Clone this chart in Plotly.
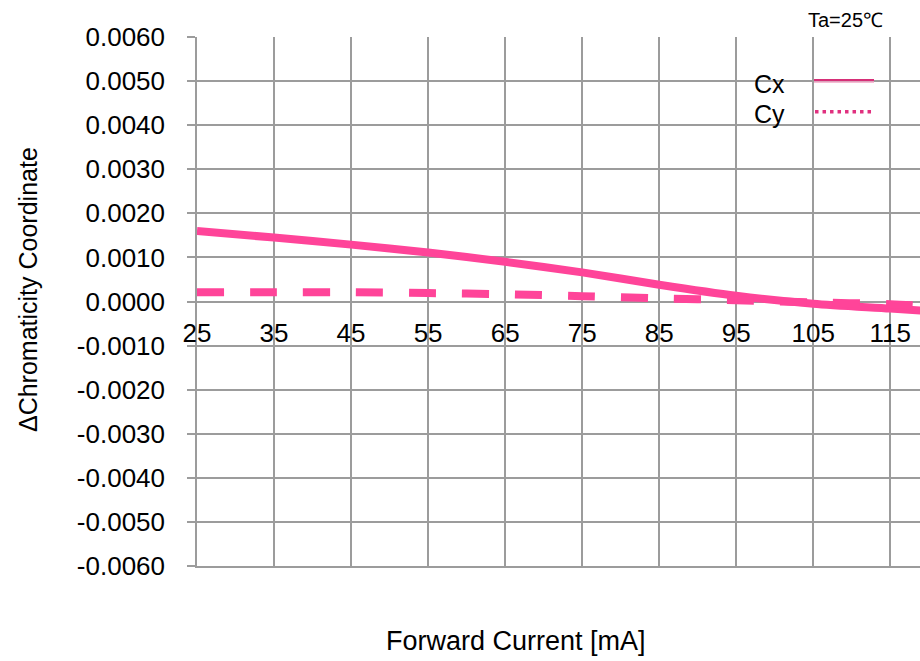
import plotly.graph_objects as go

# Forward current [mA] and chromaticity shift readings
current_ma = [25, 35, 45, 55, 65, 75, 85, 95, 105, 115, 120]
delta_cx = [0.00160, 0.00145, 0.00129, 0.00111, 0.00090, 0.00066, 0.00038, 0.00013, -0.00005, -0.00016, -0.00022]
delta_cy = [0.00021, 0.00021, 0.00021, 0.00019, 0.000165, 0.00012, 0.00007, 0.00003, -0.00002, -0.00006, -0.00011]

x_tick_vals = [25, 35, 45, 55, 65, 75, 85, 95, 105, 115]
x_tick_text = ["25", "35", "45", "55", "65", "75", "85", "95", "105", "115"]
y_tick_vals = [0.006, 0.005, 0.004, 0.003, 0.002, 0.001, 0.0, -0.001, -0.002, -0.003, -0.004, -0.005, -0.006]
y_tick_text = ["0.0060", "0.0050", "0.0040", "0.0030", "0.0020", "0.0010", "0.0000",
               "-0.0010", "-0.0020", "-0.0030", "-0.0040", "-0.0050", "-0.0060"]

FONT = "Liberation Sans, Arial, sans-serif"
PINK = "#FF4499"
GRID = "#9C9C9C"
X_RANGE = [25, 118.86]

fig = go.Figure()
fig.add_trace(go.Scatter(
    x=current_ma, y=delta_cx, mode="lines", name="Cx", showlegend=False,
    line=dict(color=PINK, width=8, shape="spline", smoothing=0.8),
))
fig.add_trace(go.Scatter(
    x=current_ma, y=delta_cy, mode="lines", name="Cy", showlegend=False,
    line=dict(color=PINK, width=8, shape="spline", smoothing=0.8, dash="27px,26px"),
))

fig.update_layout(
    width=920, height=661,
    margin=dict(l=197, r=0, t=37, b=95, pad=0),
    paper_bgcolor="white", plot_bgcolor="white",
    font=dict(family=FONT, size=25, color="black"),
    showlegend=False,
    # grid-carrying x axis at the bottom of the plot area
    xaxis=dict(
        range=X_RANGE, tickmode="array", tickvals=x_tick_vals,
        anchor="y", showline=True, linecolor=GRID, linewidth=1.5,
        ticks="", ticklen=0, zeroline=False,
        showticklabels=False, showgrid=True, gridcolor=GRID, gridwidth=1.5,
    ),
    # label-carrying x axis running along the zero line
    xaxis2=dict(
        range=X_RANGE, matches="x", overlaying="x", tickmode="array",
        tickvals=x_tick_vals, ticktext=x_tick_text,
        anchor="free", position=0.5, side="bottom", showline=False, ticks="",
        zeroline=False, showgrid=False,
        ticklabelstandoff=13, tickfont=dict(family=FONT, size=26, color="black"),
    ),
    yaxis=dict(
        range=[-0.006, 0.006], tickmode="array", tickvals=y_tick_vals, ticktext=y_tick_text,
        showline=True, linecolor=GRID, linewidth=1.5, zeroline=False,
        ticks="outside", ticklen=8, tickwidth=1.5, tickcolor=GRID,
        showgrid=True, gridcolor=GRID, gridwidth=1.5,
        ticklabelstandoff=17, tickfont=dict(family=FONT, size=26, color="black"),
    ),
)
# an invisible trace puts xaxis2 into use
fig.add_trace(go.Scatter(x=[None], y=[None], xaxis="x2", yaxis="y",
                         showlegend=False, hoverinfo="skip"))

# Axis titles and condition note
fig.add_annotation(text="Forward Current [mA]", xref="paper", yref="paper",
                   x=0.4419, y=-0.1418, xanchor="center", yanchor="middle",
                   showarrow=False, font=dict(size=27))
fig.add_annotation(text="ΔChromaticity Coordinate", xref="paper", yref="paper",
                   x=-0.2337, y=0.5217, xanchor="center", yanchor="middle",
                   textangle=-90, showarrow=False, font=dict(size=25))
fig.add_annotation(text="Ta=25℃", xref="paper", yref="paper",
                   x=0.8976, y=1.032, xanchor="center", yanchor="middle",
                   showarrow=False, font=dict(size=20))

# Legend entries: label on the left, line sample on the right
fig.add_annotation(text="Cx", xref="paper", yref="paper",
                   x=0.7925, y=0.9115, xanchor="center", yanchor="middle",
                   showarrow=False, font=dict(size=25))
fig.add_annotation(text="Cy", xref="paper", yref="paper",
                   x=0.7925, y=0.854, xanchor="center", yanchor="middle",
                   showarrow=False, font=dict(size=25))
fig.add_shape(type="line", xref="paper", yref="paper",
              x0=0.8534, x1=0.9364, y0=0.9187, y1=0.9187,
              line=dict(color="#D62F78", width=2))
fig.add_shape(type="line", xref="paper", yref="paper",
              x0=0.8534, x1=0.9364, y0=0.9149, y1=0.9149,
              line=dict(color="#F2A6C6", width=1.5))
fig.add_shape(type="line", xref="paper", yref="paper",
              x0=0.8548, x1=0.9364, y0=0.8587, y1=0.8587,
              line=dict(color="#E0307F", width=3.5, dash="3.5px,4px"))

fig.write_html("out.html")
